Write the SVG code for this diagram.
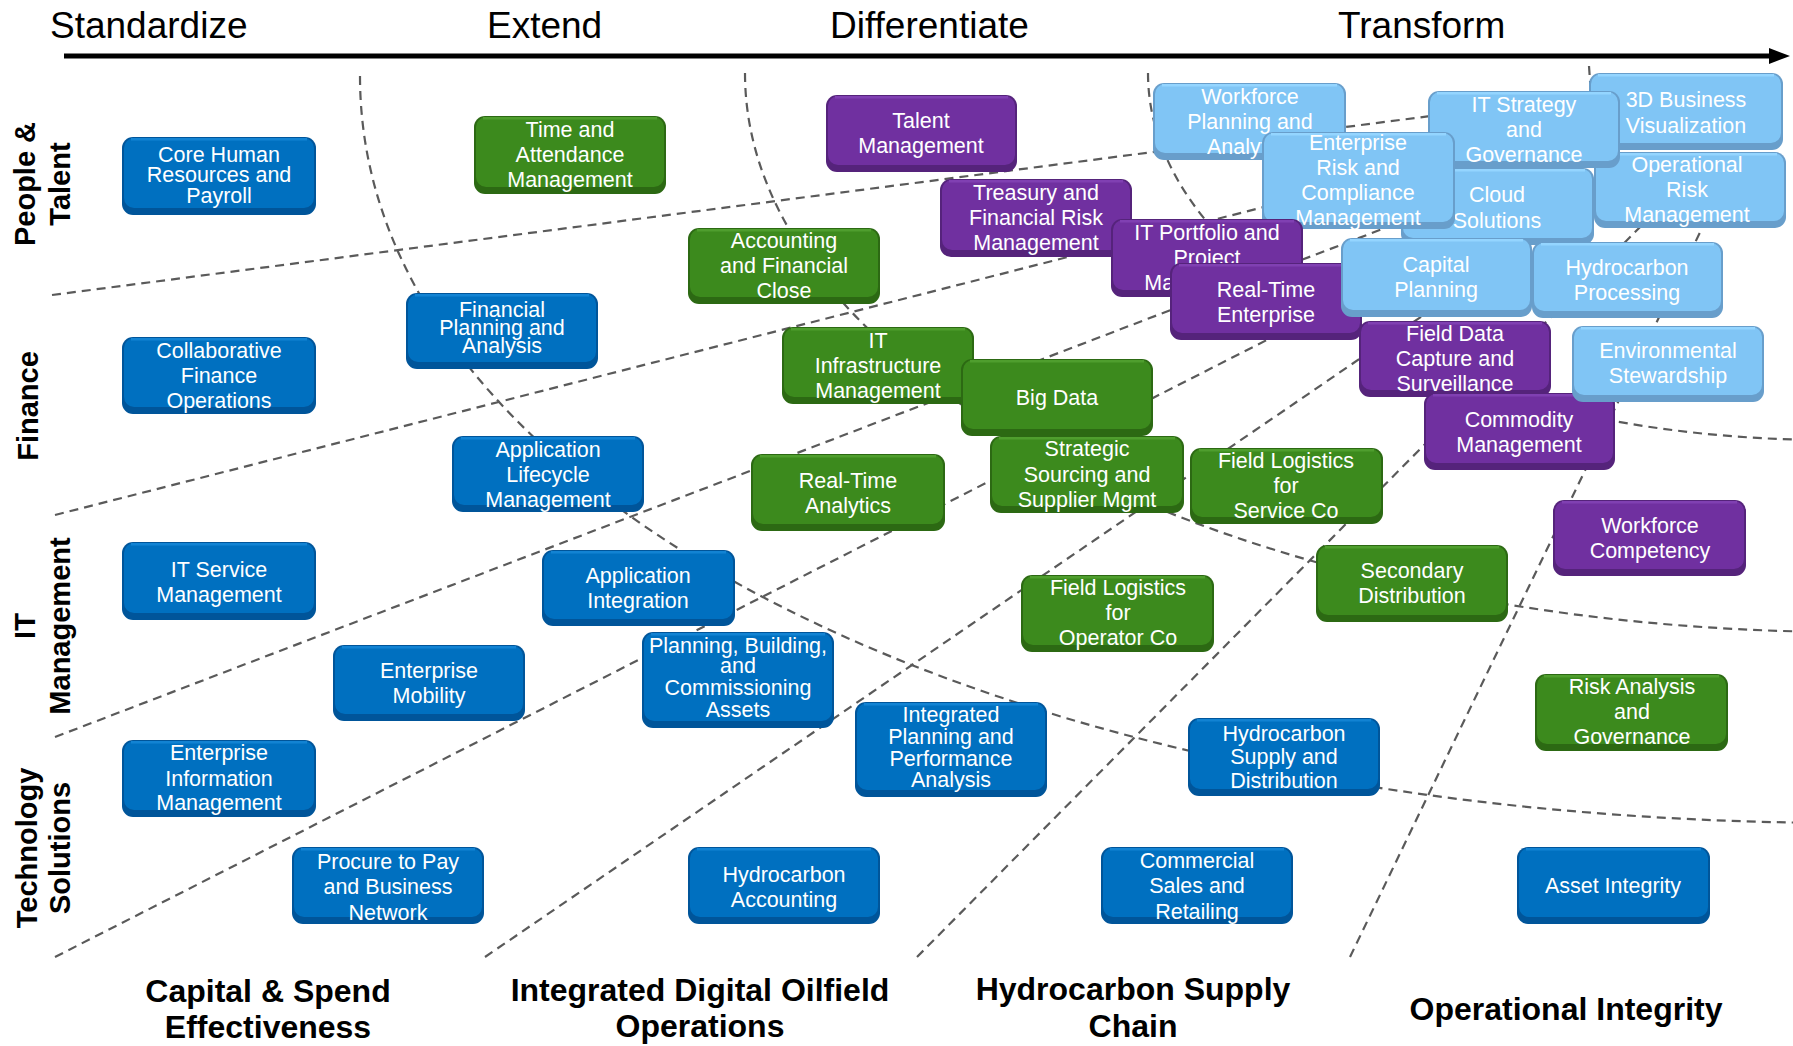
<svg xmlns="http://www.w3.org/2000/svg" width="1793" height="1046" viewBox="0 0 1793 1046">
<style>
.bg{fill:#fff}
.hdr{font-family:"Liberation Sans",Arial,sans-serif;font-size:37px;fill:#000}
.row{font-family:"Liberation Sans",Arial,sans-serif;font-size:29px;font-weight:bold;fill:#000;text-anchor:middle}
.col{font-family:"Liberation Sans",Arial,sans-serif;font-size:32px;font-weight:bold;fill:#000;text-anchor:middle}
.dl{fill:none;stroke:#5a5a5a;stroke-width:2.2;stroke-dasharray:9 6}
.node text{font-family:"Liberation Sans",Arial,sans-serif;font-size:21.5px;fill:#fff;text-anchor:middle}
.bl .sh{fill:#00559a}.bl .fc{fill:#0070c0}.bl .hl{fill:#1283d3}
.gr .sh{fill:#2c6913}.gr .fc{fill:#3c8a1d}.gr .hl{fill:#4f9e2e}
.pu .sh{fill:#55237b}.pu .fc{fill:#7030a0}.pu .hl{fill:#8040b2}
.lb .sh{fill:#689ecb}.lb .fc{fill:#80c5f5}.lb .hl{fill:#94d5ff}
</style>
<rect class="bg" x="0" y="0" width="1793" height="1046"/>

<g id="axis">
<text class="hdr" x="50" y="38">Standardize</text>
<text class="hdr" x="487" y="38">Extend</text>
<text class="hdr" x="830" y="38">Differentiate</text>
<text class="hdr" x="1338" y="38">Transform</text>
<line x1="64" y1="56" x2="1772" y2="56" stroke="#000" stroke-width="5"/>
<polygon points="1769,48 1790,56 1769,64" fill="#000"/>
</g>

<g id="connectors">
<path class="dl" d="M360,76 C360,502 1001,823 1850,823"/>
<path class="dl" d="M745,73 C745,380 1240,632 1850,632"/>
<path class="dl" d="M1148,73 C1148,275 1455,440 1830,440"/>
<path class="dl" d="M1589,66 L1591,95"/>
<path class="dl" d="M52,295 L1600,94"/>
<path class="dl" d="M55,515 L1480,152"/>
<path class="dl" d="M55,737 L1500,184"/>
<path class="dl" d="M55,957 L1420,262"/>
<path class="dl" d="M485,957 L1450,297"/>
<path class="dl" d="M917,957 L1650,217"/>
<path class="dl" d="M1350,957 L1720,191"/>
</g>

<g id="labels">
<g transform="translate(35,184) rotate(-90)"><text class="row" x="0" y="0">People &amp;</text></g>
<g transform="translate(70,184) rotate(-90)"><text class="row" x="0" y="0">Talent</text></g>
<g transform="translate(38,406) rotate(-90)"><text class="row" x="0" y="0">Finance</text></g>
<g transform="translate(35,626) rotate(-90)"><text class="row" x="0" y="0">IT</text></g>
<g transform="translate(70,626) rotate(-90)"><text class="row" x="0" y="0">Management</text></g>
<g transform="translate(37,848) rotate(-90)"><text class="row" x="0" y="0">Technology</text></g>
<g transform="translate(70,848) rotate(-90)"><text class="row" x="0" y="0">Solutions</text></g>
<text class="col" x="268" y="1002">Capital &amp; Spend</text>
<text class="col" x="268" y="1038">Effectiveness</text>
<text class="col" x="700" y="1001">Integrated Digital Oilfield</text>
<text class="col" x="700" y="1037">Operations</text>
<text class="col" x="1133" y="1000">Hydrocarbon Supply</text>
<text class="col" x="1133" y="1037">Chain</text>
<text class="col" x="1566" y="1020">Operational Integrity</text>
</g>

<g id="nodes">
<g id="n-core-hr" class="node bl"><rect class="sh" x="122" y="137" width="194" height="78" rx="11"/><rect class="fc" x="124" y="138" width="190" height="70" rx="10"/><rect class="hl" x="131" y="138" width="176" height="2.5"/><text><tspan x="219" y="162">Core Human</tspan><tspan x="219" y="182">Resources and</tspan><tspan x="219" y="203">Payroll</tspan></text></g>
<g id="n-collab-fin" class="node bl"><rect class="sh" x="122" y="337" width="194" height="77" rx="11"/><rect class="fc" x="124" y="338" width="190" height="69" rx="10"/><rect class="hl" x="131" y="338" width="176" height="2.5"/><text><tspan x="219" y="358">Collaborative</tspan><tspan x="219" y="383">Finance</tspan><tspan x="219" y="408">Operations</tspan></text></g>
<g id="n-it-service" class="node bl"><rect class="sh" x="122" y="542" width="194" height="78" rx="11"/><rect class="fc" x="124" y="543" width="190" height="70" rx="10"/><rect class="hl" x="131" y="543" width="176" height="2.5"/><text><tspan x="219" y="577">IT Service</tspan><tspan x="219" y="602">Management</tspan></text></g>
<g id="n-eim" class="node bl"><rect class="sh" x="122" y="740" width="194" height="77" rx="11"/><rect class="fc" x="124" y="741" width="190" height="69" rx="10"/><rect class="hl" x="131" y="741" width="176" height="2.5"/><text><tspan x="219" y="760">Enterprise</tspan><tspan x="219" y="786">Information</tspan><tspan x="219" y="810">Management</tspan></text></g>
<g id="n-procure" class="node bl"><rect class="sh" x="292" y="847" width="192" height="77" rx="11"/><rect class="fc" x="294" y="848" width="188" height="69" rx="10"/><rect class="hl" x="301" y="848" width="174" height="2.5"/><text><tspan x="388" y="869">Procure to Pay</tspan><tspan x="388" y="894">and Business</tspan><tspan x="388" y="920">Network</tspan></text></g>
<g id="n-ent-mobility" class="node bl"><rect class="sh" x="333" y="645" width="192" height="76" rx="11"/><rect class="fc" x="335" y="646" width="188" height="68" rx="10"/><rect class="hl" x="342" y="646" width="174" height="2.5"/><text><tspan x="429" y="678">Enterprise</tspan><tspan x="429" y="703">Mobility</tspan></text></g>
<g id="n-fpa" class="node bl"><rect class="sh" x="406" y="293" width="192" height="76" rx="11"/><rect class="fc" x="408" y="294" width="188" height="68" rx="10"/><rect class="hl" x="415" y="294" width="174" height="2.5"/><text><tspan x="502" y="317">Financial</tspan><tspan x="502" y="335">Planning and</tspan><tspan x="502" y="353">Analysis</tspan></text></g>
<g id="n-alm" class="node bl"><rect class="sh" x="452" y="436" width="192" height="76" rx="11"/><rect class="fc" x="454" y="437" width="188" height="68" rx="10"/><rect class="hl" x="461" y="437" width="174" height="2.5"/><text><tspan x="548" y="457">Application</tspan><tspan x="548" y="482">Lifecycle</tspan><tspan x="548" y="507">Management</tspan></text></g>
<g id="n-app-int" class="node bl"><rect class="sh" x="542" y="550" width="193" height="76" rx="11"/><rect class="fc" x="544" y="551" width="189" height="68" rx="10"/><rect class="hl" x="551" y="551" width="175" height="2.5"/><text><tspan x="638" y="583">Application</tspan><tspan x="638" y="608">Integration</tspan></text></g>
<g id="n-pbc" class="node bl"><rect class="sh" x="642" y="632" width="192" height="96" rx="11"/><rect class="fc" x="644" y="633" width="188" height="88" rx="10"/><rect class="hl" x="651" y="633" width="174" height="2.5"/><text><tspan x="738" y="653">Planning, Building,</tspan><tspan x="738" y="673">and</tspan><tspan x="738" y="695">Commissioning</tspan><tspan x="738" y="717">Assets</tspan></text></g>
<g id="n-ippa" class="node bl"><rect class="sh" x="855" y="702" width="192" height="95" rx="11"/><rect class="fc" x="857" y="703" width="188" height="87" rx="10"/><rect class="hl" x="864" y="703" width="174" height="2.5"/><text><tspan x="951" y="722">Integrated</tspan><tspan x="951" y="744">Planning and</tspan><tspan x="951" y="766">Performance</tspan><tspan x="951" y="787">Analysis</tspan></text></g>
<g id="n-hsd" class="node bl"><rect class="sh" x="1188" y="718" width="192" height="78" rx="11"/><rect class="fc" x="1190" y="719" width="188" height="70" rx="10"/><rect class="hl" x="1197" y="719" width="174" height="2.5"/><text><tspan x="1284" y="741">Hydrocarbon</tspan><tspan x="1284" y="764">Supply and</tspan><tspan x="1284" y="788">Distribution</tspan></text></g>
<g id="n-hc-acct" class="node bl"><rect class="sh" x="688" y="847" width="192" height="77" rx="11"/><rect class="fc" x="690" y="848" width="188" height="69" rx="10"/><rect class="hl" x="697" y="848" width="174" height="2.5"/><text><tspan x="784" y="882">Hydrocarbon</tspan><tspan x="784" y="907">Accounting</tspan></text></g>
<g id="n-css" class="node bl"><rect class="sh" x="1101" y="847" width="192" height="77" rx="11"/><rect class="fc" x="1103" y="848" width="188" height="69" rx="10"/><rect class="hl" x="1110" y="848" width="174" height="2.5"/><text><tspan x="1197" y="868">Commercial</tspan><tspan x="1197" y="893">Sales and</tspan><tspan x="1197" y="919">Retailing</tspan></text></g>
<g id="n-asset-int" class="node bl"><rect class="sh" x="1517" y="847" width="193" height="77" rx="11"/><rect class="fc" x="1519" y="848" width="189" height="69" rx="10"/><rect class="hl" x="1526" y="848" width="175" height="2.5"/><text><tspan x="1613" y="893">Asset Integrity</tspan></text></g>

<g id="n-time-att" class="node gr"><rect class="sh" x="474" y="116" width="192" height="78" rx="11"/><rect class="fc" x="476" y="117" width="188" height="70" rx="10"/><rect class="hl" x="483" y="117" width="174" height="2.5"/><text><tspan x="570" y="137">Time and</tspan><tspan x="570" y="162">Attendance</tspan><tspan x="570" y="187">Management</tspan></text></g>
<g id="n-acct-close" class="node gr"><rect class="sh" x="688" y="228" width="192" height="76" rx="11"/><rect class="fc" x="690" y="229" width="188" height="68" rx="10"/><rect class="hl" x="697" y="229" width="174" height="2.5"/><text><tspan x="784" y="248">Accounting</tspan><tspan x="784" y="273">and Financial</tspan><tspan x="784" y="298">Close</tspan></text></g>
<g id="n-it-infra" class="node gr"><rect class="sh" x="782" y="327" width="192" height="77" rx="11"/><rect class="fc" x="784" y="328" width="188" height="69" rx="10"/><rect class="hl" x="791" y="328" width="174" height="2.5"/><text><tspan x="878" y="348">IT</tspan><tspan x="878" y="373">Infrastructure</tspan><tspan x="878" y="398">Management</tspan></text></g>
<g id="n-big-data" class="node gr"><rect class="sh" x="961" y="359" width="192" height="77" rx="11"/><rect class="fc" x="963" y="360" width="188" height="69" rx="10"/><rect class="hl" x="970" y="360" width="174" height="2.5"/><text><tspan x="1057" y="405">Big Data</tspan></text></g>
<g id="n-rta" class="node gr"><rect class="sh" x="751" y="454" width="194" height="77" rx="11"/><rect class="fc" x="753" y="455" width="190" height="69" rx="10"/><rect class="hl" x="760" y="455" width="176" height="2.5"/><text><tspan x="848" y="488">Real-Time</tspan><tspan x="848" y="513">Analytics</tspan></text></g>
<g id="n-strat" class="node gr"><rect class="sh" x="990" y="436" width="194" height="77" rx="11"/><rect class="fc" x="992" y="437" width="190" height="69" rx="10"/><rect class="hl" x="999" y="437" width="176" height="2.5"/><text><tspan x="1087" y="456">Strategic</tspan><tspan x="1087" y="482">Sourcing and</tspan><tspan x="1087" y="507">Supplier Mgmt</tspan></text></g>
<g id="n-fl-service" class="node gr"><rect class="sh" x="1190" y="448" width="193" height="76" rx="11"/><rect class="fc" x="1192" y="449" width="189" height="68" rx="10"/><rect class="hl" x="1199" y="449" width="175" height="2.5"/><text><tspan x="1286" y="468">Field Logistics</tspan><tspan x="1286" y="493">for</tspan><tspan x="1286" y="518">Service Co</tspan></text></g>
<g id="n-fl-operator" class="node gr"><rect class="sh" x="1021" y="575" width="193" height="77" rx="11"/><rect class="fc" x="1023" y="576" width="189" height="69" rx="10"/><rect class="hl" x="1030" y="576" width="175" height="2.5"/><text><tspan x="1118" y="595">Field Logistics</tspan><tspan x="1118" y="620">for</tspan><tspan x="1118" y="645">Operator Co</tspan></text></g>
<g id="n-secondary" class="node gr"><rect class="sh" x="1316" y="545" width="192" height="77" rx="11"/><rect class="fc" x="1318" y="546" width="188" height="69" rx="10"/><rect class="hl" x="1325" y="546" width="174" height="2.5"/><text><tspan x="1412" y="578">Secondary</tspan><tspan x="1412" y="603">Distribution</tspan></text></g>
<g id="n-risk-gov" class="node gr"><rect class="sh" x="1535" y="674" width="193" height="77" rx="11"/><rect class="fc" x="1537" y="675" width="189" height="69" rx="10"/><rect class="hl" x="1544" y="675" width="175" height="2.5"/><text><tspan x="1632" y="694">Risk Analysis</tspan><tspan x="1632" y="719">and</tspan><tspan x="1632" y="744">Governance</tspan></text></g>

<g id="n-talent" class="node pu"><rect class="sh" x="826" y="95" width="191" height="77" rx="11"/><rect class="fc" x="828" y="96" width="187" height="69" rx="10"/><rect class="hl" x="835" y="96" width="173" height="2.5"/><text><tspan x="921" y="128">Talent</tspan><tspan x="921" y="153">Management</tspan></text></g>
<g id="n-wfpa" class="node lb"><rect class="sh" x="1153" y="83" width="193" height="77" rx="11"/><rect class="fc" x="1155" y="84" width="189" height="69" rx="10"/><rect class="hl" x="1162" y="84" width="175" height="2.5"/><text><tspan x="1250" y="104">Workforce</tspan><tspan x="1250" y="129">Planning and</tspan><tspan x="1250" y="154">Analytics</tspan></text></g>
<g id="n-3d" class="node lb"><rect class="sh" x="1589" y="73" width="194" height="77" rx="11"/><rect class="fc" x="1591" y="74" width="190" height="69" rx="10"/><rect class="hl" x="1598" y="74" width="176" height="2.5"/><text><tspan x="1686" y="107">3D Business</tspan><tspan x="1686" y="133">Visualization</tspan></text></g>
<g id="n-op-risk" class="node lb"><rect class="sh" x="1594" y="152" width="192" height="76" rx="11"/><rect class="fc" x="1596" y="153" width="188" height="68" rx="10"/><rect class="hl" x="1603" y="153" width="174" height="2.5"/><text><tspan x="1687" y="172">Operational</tspan><tspan x="1687" y="197">Risk</tspan><tspan x="1687" y="222">Management</tspan></text></g>
<g id="n-cloud" class="node lb"><rect class="sh" x="1401" y="168" width="193" height="77" rx="11"/><rect class="fc" x="1403" y="169" width="189" height="69" rx="10"/><rect class="hl" x="1410" y="169" width="175" height="2.5"/><text><tspan x="1497" y="202">Cloud</tspan><tspan x="1497" y="228">Solutions</tspan></text></g>
<g id="n-it-strategy" class="node lb"><rect class="sh" x="1428" y="91" width="192" height="77" rx="11"/><rect class="fc" x="1430" y="92" width="188" height="69" rx="10"/><rect class="hl" x="1437" y="92" width="174" height="2.5"/><text><tspan x="1524" y="112">IT Strategy</tspan><tspan x="1524" y="137">and</tspan><tspan x="1524" y="162">Governance</tspan></text></g>
<g id="n-er" class="node lb"><rect class="sh" x="1262" y="132" width="193" height="97" rx="11"/><rect class="fc" x="1264" y="133" width="189" height="89" rx="10"/><rect class="hl" x="1271" y="133" width="175" height="2.5"/><text><tspan x="1358" y="150">Enterprise</tspan><tspan x="1358" y="175">Risk and</tspan><tspan x="1358" y="200">Compliance</tspan><tspan x="1358" y="225">Management</tspan></text></g>
<g id="n-treasury" class="node pu"><rect class="sh" x="940" y="179" width="192" height="78" rx="11"/><rect class="fc" x="942" y="180" width="188" height="70" rx="10"/><rect class="hl" x="949" y="180" width="174" height="2.5"/><text><tspan x="1036" y="200">Treasury and</tspan><tspan x="1036" y="225">Financial Risk</tspan><tspan x="1036" y="250">Management</tspan></text></g>
<g id="n-it-portfolio" class="node pu"><rect class="sh" x="1111" y="219" width="192" height="78" rx="11"/><rect class="fc" x="1113" y="220" width="188" height="70" rx="10"/><rect class="hl" x="1120" y="220" width="174" height="2.5"/><text><tspan x="1207" y="240">IT Portfolio and</tspan><tspan x="1207" y="265">Project</tspan><tspan x="1207" y="290">Management</tspan></text></g>
<g id="n-rte" class="node pu"><rect class="sh" x="1170" y="263" width="192" height="77" rx="11"/><rect class="fc" x="1172" y="264" width="188" height="69" rx="10"/><rect class="hl" x="1179" y="264" width="174" height="2.5"/><text><tspan x="1266" y="297">Real-Time</tspan><tspan x="1266" y="322">Enterprise</tspan></text></g>
<g id="n-capital" class="node lb"><rect class="sh" x="1341" y="238" width="191" height="79" rx="11"/><rect class="fc" x="1343" y="239" width="187" height="71" rx="10"/><rect class="hl" x="1350" y="239" width="173" height="2.5"/><text><tspan x="1436" y="272">Capital</tspan><tspan x="1436" y="297">Planning</tspan></text></g>
<g id="n-hp" class="node lb"><rect class="sh" x="1532" y="242" width="191" height="76" rx="11"/><rect class="fc" x="1534" y="243" width="187" height="68" rx="10"/><rect class="hl" x="1541" y="243" width="173" height="2.5"/><text><tspan x="1627" y="275">Hydrocarbon</tspan><tspan x="1627" y="300">Processing</tspan></text></g>
<g id="n-field-data" class="node pu"><rect class="sh" x="1359" y="321" width="192" height="76" rx="11"/><rect class="fc" x="1361" y="322" width="188" height="68" rx="10"/><rect class="hl" x="1368" y="322" width="174" height="2.5"/><text><tspan x="1455" y="341">Field Data</tspan><tspan x="1455" y="366">Capture and</tspan><tspan x="1455" y="391">Surveillance</tspan></text></g>
<g id="n-commodity" class="node pu"><rect class="sh" x="1424" y="393" width="191" height="77" rx="11"/><rect class="fc" x="1426" y="394" width="187" height="69" rx="10"/><rect class="hl" x="1433" y="394" width="173" height="2.5"/><text><tspan x="1519" y="427">Commodity</tspan><tspan x="1519" y="452">Management</tspan></text></g>
<g id="n-env" class="node lb"><rect class="sh" x="1572" y="326" width="192" height="76" rx="11"/><rect class="fc" x="1574" y="327" width="188" height="68" rx="10"/><rect class="hl" x="1581" y="327" width="174" height="2.5"/><text><tspan x="1668" y="358">Environmental</tspan><tspan x="1668" y="383">Stewardship</tspan></text></g>
<g id="n-wf-comp" class="node pu"><rect class="sh" x="1553" y="500" width="193" height="76" rx="11"/><rect class="fc" x="1555" y="501" width="189" height="68" rx="10"/><rect class="hl" x="1562" y="501" width="175" height="2.5"/><text><tspan x="1650" y="533">Workforce</tspan><tspan x="1650" y="558">Competency</tspan></text></g>
</g>
</svg>
